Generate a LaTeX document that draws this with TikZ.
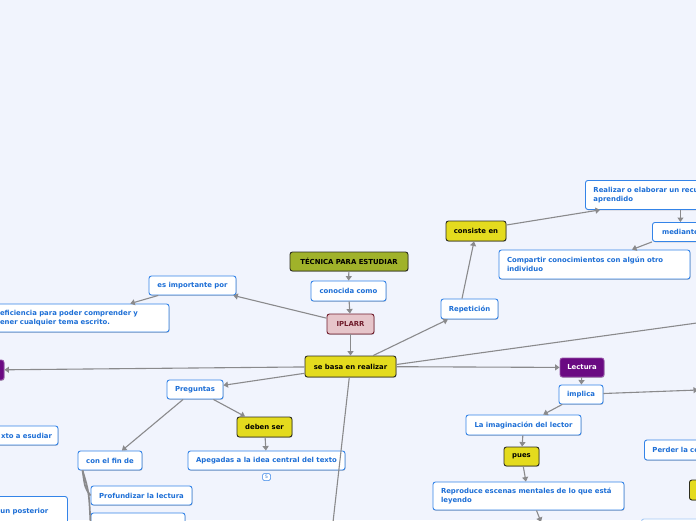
\documentclass[tikz,border=0pt]{standalone}
\usepackage{fontspec}
\setmainfont{DejaVu Sans}
\usetikzlibrary{arrows.meta,shadows}
\definecolor{bgc}{RGB}{241,244,253}
\definecolor{bblue}{RGB}{52,132,232}
\definecolor{tblue}{RGB}{28,110,214}
\definecolor{yel}{RGB}{228,219,30}
\definecolor{dk}{RGB}{45,45,30}
\definecolor{olive}{RGB}{160,178,42}
\definecolor{pinkf}{RGB}{230,197,202}
\definecolor{pinkd}{RGB}{112,28,44}
\definecolor{purp}{RGB}{106,10,130}
\definecolor{lgray}{RGB}{138,138,140}
\begin{document}
\begin{tikzpicture}[x=1pt,y=-1pt,
  box/.style={rounded corners=2.5pt, line width=0.9pt, inner sep=0pt,
    font=\fontsize{6.9}{8.9}\selectfont\bfseries,
    drop shadow={shadow xshift=0.5pt, shadow yshift=-0.8pt, opacity=0.22, fill=black}},
  sz/.style 2 args={minimum width=#1pt, minimum height=#2pt},
  wbox/.style={box, draw=bblue, fill=white, text=tblue},
  ybox/.style={box, draw=dk, fill=yel, text=black},
  obox/.style={box, draw=dk, fill=olive, text=black},
  pbox/.style={box, draw=pinkd, fill=pinkf, text=pinkd},
  ubox/.style={box, draw=purp!70, fill=purp, text=white},
  arr/.style={draw=lgray, line width=1.1pt, -{Triangle[width=6pt,length=4.5pt]}},
  ln/.style={draw=lgray, line width=1.1pt},
  ic/.style={rounded corners=1.5pt, draw=bblue, line width=0.5pt, fill=white, text=tblue,
    inner sep=0pt, minimum width=8pt, minimum height=7pt, font=\fontsize{4.5}{5}\selectfont}
]
\useasboundingbox[fill=bgc] (0,0) rectangle (696,520);

% main column
\node[obox, sz={118}{19}] (tec) at (349,261.5) {TÉCNICA PARA ESTUDIAR};
\node[wbox, sz={75}{20}] (con) at (348.5,291) {conocida como};
\node[pbox, sz={47}{20}] (ipl) at (350.5,324) {IPLARR};
\node[ybox, sz={91}{21}] (seb) at (350.5,366.5) {se basa en realizar};

% left branch
\node[wbox, sz={87}{19}] (esi) at (192.5,285.5) {es importante por};
\node[wbox, sz={177}{28}, text width=161pt, align=left] (efi) at (80.5,318) {eficiencia para poder comprender y\\ener cualquier tema escrito.};
\node[ubox, sz={44}{20}] (pur) at (-18,370) {};
\node[wbox, sz={100}{19}, text width=88pt, align=right] (xto) at (8,435.5) {xto a esudiar};
\node[wbox, sz={56}{19}] (pre) at (195,389.5) {Preguntas};
\node[ybox, sz={55}{20}] (deb) at (264.5,427) {deben ser};
\node[wbox, sz={64}{19}] (cfd) at (110,460.5) {con el fin de};
\node[wbox, sz={157}{19}] (ape) at (266.5,460.5) {Apegadas a la idea central del texto};
\node[ic] (ic5) at (266.5,477) {5};
\node[wbox, sz={101}{19}] (pro) at (141.5,495.5) {Profundizar la lectura};
\node[wbox, sz={94}{22}] (bot1) at (138,524) {};
\node[wbox, sz={75}{30}, text width=59pt, align=left, anchor=north west] (unp) at (-8,496) {un posterior};

% right branch
\node[wbox, sz={57}{20}] (rep) at (469.5,309) {Repetición};
\node[ybox, sz={60}{20}] (cons) at (476,231) {consiste en};
\node[wbox, sz={180}{29}, text width=164pt, align=left, anchor=north west] (rea) at (585,180) {Realizar o elaborar un recu\\aprendido};
\node[wbox, sz={56}{19}, anchor=north west] (med) at (652,222) {mediante};
\node[wbox, sz={191}{29}, text width=175pt, align=left] (com) at (594.5,264.5) {Compartir conocimientos con algún otro\\individuo};
\node[ubox, sz={44}{19}] (lec) at (582,367.5) {Lectura};
\node[wbox, sz={44}{19}] (imp) at (581,394.5) {implica};
\node[wbox, sz={115}{20}] (lim) at (523.5,425) {La imaginación del lector};
\node[ybox, sz={35}{19}] (pue) at (521.5,456.5) {pues};
\node[wbox, sz={191}{28}, text width=175pt, align=left] (rpr) at (528.5,496) {Reproduce escenas mentales de lo que está\\leyendo};
\node[wbox, sz={110}{20}, text width=94pt, align=left, anchor=west] (per) at (644,450) {Perder la co};
\node[ybox, sz={50}{20}, anchor=west] (yr) at (689,490) {};
\node[wbox, sz={120}{20}, anchor=north west, draw=bblue!45] (br) at (641,518.5) {};

% free ends
\coordinate (offR) at (720,319.8);
\coordinate (offD) at (331,540);
\coordinate (offI) at (698,390);
\coordinate (rdn) at (541,522);

% connectors
\draw[arr] (tec) -- (con);
\draw[arr] (con) -- (ipl);
\draw[arr] (ipl) -- (seb);
\draw[arr] (ipl) -- (esi);
\draw[arr] (esi) -- (efi);
\draw[arr] (seb) -- (pur);
\draw[arr] (seb) -- (pre);
\draw[arr] (pre) -- (cfd);
\draw[arr] (pre) -- (deb);
\draw[arr] (deb) -- (ape);
\draw[ln] (seb) -- (offD);
\draw[arr] (seb) -- (rep);
\draw[ln] ([yshift=2pt]seb.east) -- (offR);
\draw[arr] (seb) -- (lec);
\draw[arr] ([xshift=-7.5pt]rep.north) -- ([xshift=-2pt]cons.south);
\draw[arr] ([yshift=6pt]cons.east) -- ([xshift=15pt]rea.south west);
\draw[arr] (rea.south -| med.north) -- (med.north);
\draw[arr] (med.south west) -- ([xshift=37.5pt]com.north);
\draw[arr] (lec) -- (imp);
\draw[arr] (imp) -- (lim);
\draw[arr] (lim) -- (pue);
\draw[arr] (pue) -- (rpr);
\draw[arr] ([xshift=8pt]rpr.south) -- (rdn);
\draw[arr] ([yshift=1pt]imp.east) -- (offI);
\draw[ln, line width=1.7pt] ([xshift=5pt]cfd.south west) .. controls (85,488) .. (pro.west);
\draw[ln, line width=1.7pt] ([xshift=5pt]cfd.south west) .. controls (89,492) .. (bot1.west);
\end{tikzpicture}
\end{document}
